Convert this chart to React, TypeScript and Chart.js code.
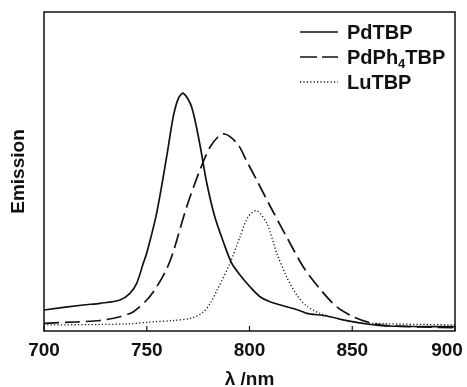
import React, { useEffect, useRef } from "react";
import { Chart, registerables } from "chart.js";

Chart.register(...registerables);

// ---- data ----
const seriesNames = ["PdTBP", "PdPh4TBP", "LuTBP"];

const pdtbpWavelength = [700, 719, 727.3, 737, 741.8, 745.1, 748.3, 750, 754.8, 759.7, 762.9, 765.4, 767.8, 771.8, 775.9, 779, 783, 787.3, 791.3, 795.4, 800.2, 805.1, 810, 818.1, 824.6, 827.8, 837.6, 847.3, 857, 866.8, 900];
const pdtbpEmission = [21, 26, 27.7, 31, 37.7, 47.7, 67.7, 78, 117.7, 174.3, 214.3, 232.7, 237.7, 224.3, 186, 150, 115, 89, 68, 56, 44.3, 34.3, 29.3, 24.3, 20.3, 17.7, 15, 10.3, 7, 5, 4.3];

const pdph4tbpWavelength = [700, 715, 727.3, 737, 743.5, 750, 754.8, 759.7, 762.9, 769.4, 775.9, 780.8, 785.6, 788, 790.5, 794.6, 798.6, 803.5, 810, 818.1, 826.2, 834.3, 842.4, 850.5, 858.6, 866.8, 900];
const pdph4tbpEmission = [7.7, 9, 10.5, 14.3, 19.3, 31, 44, 62, 79, 124, 161, 184, 196, 197, 194.3, 186, 170, 151, 125, 94, 64, 42, 24.3, 14.3, 8.3, 5.3, 3.3];

const lutbpWavelength = [700, 740, 751.6, 763, 772, 777.5, 781, 784, 790.5, 795.4, 799.4, 803.5, 808.4, 813.3, 818.1, 823, 827.8, 834.3, 842.4, 853.8, 900];
const lutbpEmission = [6, 7, 9, 10.5, 13, 19, 28, 40, 67.7, 94.3, 114.3, 120.3, 107.7, 77.7, 54, 36, 25, 17.7, 12.7, 8.3, 6];

const xTicks = [700, 750, 800, 850, 900];
const xTitle = "\u03bb /nm";
const yTitle = "Emission";

const FONT = "'Liberation Sans', Arial, Helvetica, sans-serif";
const INK = "#111";

const toPoints = (xs: number[], ys: number[]) => xs.map((x, i) => ({ x, y: ys[i] }));

const styles = [
  { borderDash: [] as number[], borderWidth: 1.7 },
  { borderDash: [15, 6], borderWidth: 1.7 },
  { borderDash: [1.2, 2.2], borderWidth: 1.3 },
];

const framePlugin = {
  id: "frameAndLegend",
  afterDatasetsDraw(chart: any) {
    const { ctx, chartArea, scales } = chart;
    const { left, top, right, bottom } = chartArea;
    const x = scales.x;
    ctx.save();
    ctx.strokeStyle = INK;
    ctx.lineWidth = 1.5;
    ctx.setLineDash([]);
    ctx.strokeRect(left, top, right - left, bottom - top);
    // inward tick marks
    ctx.lineWidth = 1.2;
    x.ticks.forEach((t: any) => {
      const px = x.getPixelForValue(t.value);
      ctx.beginPath();
      ctx.moveTo(px, bottom);
      ctx.lineTo(px, bottom - 5);
      ctx.stroke();
    });
    // legend
    const lineX0 = 300, lineX1 = 338, textX = 347;
    const rowY = [32, 57, 82];
    chart.data.datasets.forEach((ds: any, i: number) => {
      const y = rowY[i];
      ctx.strokeStyle = INK;
      ctx.lineWidth = ds.borderWidth;
      ctx.setLineDash(i === 1 ? [17, 5] : ds.borderDash);
      ctx.beginPath();
      ctx.moveTo(lineX0, y);
      ctx.lineTo(lineX1, y);
      ctx.stroke();
      ctx.setLineDash([]);
      ctx.fillStyle = INK;
      ctx.textBaseline = "alphabetic";
      ctx.textAlign = "left";
      const baseline = y + 6.5;
      let cx = textX;
      const parts = String(ds.label).match(/(\d+|\D+)/g) || [];
      parts.forEach((p: string) => {
        const sub = /^\d+$/.test(p);
        ctx.font = `bold ${sub ? 13 : 20}px ${FONT}`;
        ctx.fillText(p, cx, sub ? baseline + 4 : baseline);
        cx += ctx.measureText(p).width;
      });
    });
    ctx.restore();
  },
};

export default function App() {
  const ref = useRef<HTMLCanvasElement | null>(null);
  useEffect(() => {
    if (!ref.current) return;
    const xs = [pdtbpWavelength, pdph4tbpWavelength, lutbpWavelength];
    const ys = [pdtbpEmission, pdph4tbpEmission, lutbpEmission];
    const chart = new Chart(ref.current, {
      type: "line",
      data: {
        datasets: seriesNames.map((name, i) => ({
          label: name,
          data: toPoints(xs[i], ys[i]),
          borderColor: INK,
          borderWidth: styles[i].borderWidth,
          borderDash: styles[i].borderDash,
          pointRadius: 0,
          fill: false,
          tension: 0.3,
        })),
      },
      options: {
        animation: false,
        responsive: false,
        layout: { padding: { top: 12, right: 12, left: 0, bottom: 0 } },
        plugins: { legend: { display: false }, tooltip: { enabled: false } },
        scales: {
          x: {
            type: "linear",
            min: 700,
            max: 900,
            afterBuildTicks: (scale: any) => {
              scale.ticks = xTicks.map((v) => ({ value: v }));
            },
            afterFit: (scale: any) => {
              scale.height = 56;
              scale.paddingLeft = 0;
              scale.paddingRight = 0;
            },
            grid: { display: false, drawTicks: false },
            border: { display: false },
            ticks: {
              padding: 8,
              maxRotation: 0,
              color: INK,
              font: { family: FONT, size: 19, weight: "bold" },
              callback: (v: any) => (v === 900 ? "900   " : String(v)),
            },
            title: {
              display: true,
              text: xTitle,
              color: INK,
              font: { family: FONT, size: 19, weight: "bold", lineHeight: 0.8 },
              padding: { top: 0, bottom: 0 },
            },
          },
          y: {
            type: "linear",
            min: 0,
            max: 319,
            afterFit: (scale: any) => {
              scale.width = 44;
              scale.paddingTop = 0;
              scale.paddingBottom = 0;
            },
            grid: { display: false, drawTicks: false },
            border: { display: false },
            ticks: { display: false },
            title: {
              display: true,
              text: yTitle,
              color: INK,
              font: { family: FONT, size: 19, weight: "bold" },
              padding: { top: 7, bottom: 0 },
            },
          },
        },
      },
      plugins: [framePlugin],
    });
    return () => chart.destroy();
  }, []);
  return (
    <div style={{ position: "fixed", left: 0, top: 0, width: 467, height: 387, background: "#fff" }}>
      <canvas ref={ref} width={467} height={387} style={{ display: "block" }} />
    </div>
  );
}
